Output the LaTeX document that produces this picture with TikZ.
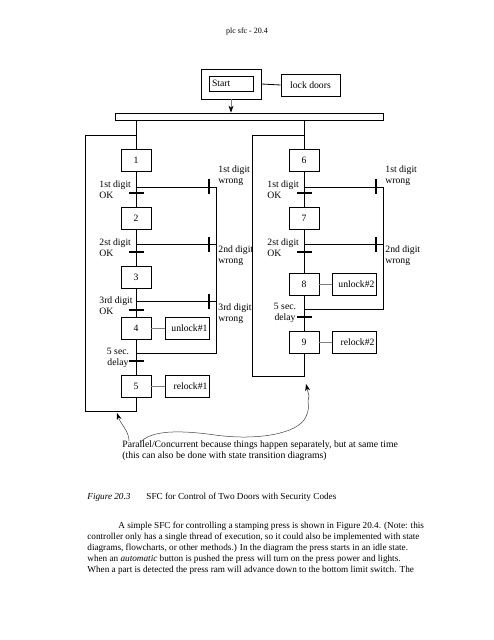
\documentclass[tikz,border=0pt]{standalone}
\usepackage{fontspec}
\setmainfont{Liberation Serif}
\usetikzlibrary{arrows.meta}

\tikzset{
	stepbox/.style={draw, minimum width=30pt, minimum height=22pt, inner sep=0pt},
	actbox/.style={draw, minimum width=44pt, minimum height=22pt, text width=40pt, inner xsep=2pt, align=right},
	hbar/.style={fill, minimum width=15pt, minimum height=2.6pt, inner sep=0pt},
	vbar/.style={fill, minimum width=2.6pt, minimum height=15pt, inner sep=0pt},
	lbl/.style={align=left, inner sep=0pt},
	page/.style={align=left, inner sep=0pt, font=\fontsize{9.2}{11}\selectfont},
	note/.style={black!75, line width=0.5pt},
}

\begin{document}
\begin{tikzpicture}[x=1pt, y=-1pt, line width=0.8pt,
		every node/.style={font=\fontsize{9.7}{11}\selectfont}]
	\useasboundingbox (0,0) rectangle (494,640);
		\node (H) at (247,32) {\fontsize{8}{9}\selectfont plc sfc - 20.4};
		% start step and parallel bar
		\node[draw, minimum width=60pt, minimum height=30pt] (ST) at (231,84) {};
		\node[draw, line width=0.6pt, minimum width=44pt, minimum height=15pt, text width=38pt, inner xsep=3pt, align=left] (STi) at (231,83.5) {Start};
		\node[draw, minimum width=59pt, minimum height=22pt] (LD) at (310.5,85) {lock doors};
		\draw (ST.east) -- (LD.west);
		\node[draw, minimum width=268pt, minimum height=7pt, inner sep=0pt] (PB) at (249,116.5) {};
		\draw[gray, line width=0.6pt, -{Stealth[black, length=7pt, width=5pt]}] (ST.south) -- (ST.south |- PB.north);
		% left door
		\node[stepbox] (S1) at (136,160) {1};
		\node[stepbox] (S2) at (136,218.5) {2};
		\node[stepbox] (S3) at (136,277) {3};
		\node[stepbox] (S4) at (136,328) {4};
		\node[stepbox] (S5) at (136,386.5) {5};
		\node[actbox] (A4) at (187.5,328) {unlock\#1};
		\node[actbox] (A5) at (187.5,386.5) {relock\#1};
		\node[hbar] (T1) at (136,193) {};
		\node[hbar] (T2) at (136,252) {};
		\node[hbar] (T3) at (136,310) {};
		\node[hbar] (T4) at (136,361) {};
		\node[vbar] (W1) at (209,186.5) {};
		\node[vbar] (W2) at (209,244.5) {};
		\node[vbar] (W3) at (209,301.5) {};
		\coordinate (R1) at (216,187);
		\coordinate (R4) at (216,353);
		\coordinate (L1) at (85,135);
		\draw (S1.north) -- (S1.north |- PB.south);
		\draw (S1) -- (S2);
		\draw (S2) -- (S3);
		\draw (S3) -- (S4);
		\draw (S4) -- (S5);
		\draw (S5.south) -- ++(0,13.5) -| (L1) -- (L1 -| S1);
		\draw (S1 |- R1) -- (R1) -- (R4) -- (R4 -| S4);
		\draw (S2 |- W2) -- (W2 -| R1);
		\draw (S3 |- W3) -- (W3 -| R1);
		\draw[gray] (S4) -- (A4);
		\draw[gray] (S5) -- (A5);
		\node[lbl, anchor=west] (O1) at (99,189.5) {1st digit\\OK};
		\node[lbl, anchor=west] (O2) at (99,248) {2st digit\\OK};
		\node[lbl, anchor=west] (O3) at (99,306) {3rd digit\\OK};
		\node[lbl, align=center] (D4) at (118,358) {5 sec.\\delay};
		\node[lbl, anchor=west] (X1) at (218,176) {1st digit\\wrong};
		\node[lbl, anchor=west] (X2) at (218,255.5) {2nd digit\\wrong};
		\node[lbl, anchor=west] (X3) at (218,314) {3rd digit\\wrong};
		% right door
		\node[stepbox] (S6) at (304,160) {6};
		\node[stepbox] (S7) at (304,218.5) {7};
		\node[stepbox] (S8) at (304,284) {8};
		\node[stepbox] (S9) at (304,342.5) {9};
		\node[actbox] (A8) at (354.5,284) {unlock\#2};
		\node[actbox] (A9) at (354.5,342.5) {relock\#2};
		\node[hbar] (T6) at (304,193) {};
		\node[hbar] (T7) at (304,252) {};
		\node[hbar] (T8) at (304,317) {};
		\node[vbar] (W6) at (376,186.5) {};
		\node[vbar] (W7) at (376,244.5) {};
		\coordinate (R6) at (383,187);
		\coordinate (R8) at (383,309);
		\coordinate (L6) at (252,135);
		\draw (S6.north) -- (S6.north |- PB.south);
		\draw (S6) -- (S7);
		\draw (S7) -- (S8);
		\draw (S8) -- (S9);
		\draw (S9.south) -- ++(0,22) -| (L6) -- (L6 -| S6);
		\draw (S6 |- R6) -- (R6) -- (R8) -- (R8 -| S8);
		\draw (S7 |- W7) -- (W7 -| R6);
		\draw[gray] (S8) -- (A8);
		\draw[gray] (S9) -- (A9);
		\node[lbl, anchor=west] (O6) at (267,189.5) {1st digit\\OK};
		\node[lbl, anchor=west] (O7) at (267,248) {2st digit\\OK};
		\node[lbl, align=center] (D8) at (285,313) {5 sec.\\delay};
		\node[lbl, anchor=west] (X6) at (385,176) {1st digit\\wrong};
		\node[lbl, anchor=west] (X7) at (385,255.5) {2nd digit\\wrong};
		% note
		\node[lbl, anchor=west] (N) at (122,450.5) {Parallel/Concurrent because things happen separately, but at same time\\(this can also be done with state transition diagrams)};
		\coordinate (P1) at (129,441);
		\coordinate (E1) at (117,413);
		\coordinate (P2) at (140,443);
		\coordinate (E2) at (306,384);
		\draw[note, -{Stealth[black, length=7pt, width=5pt]}] (P1) .. controls (129,431) and (121,425) .. (E1);
		\draw[note, -{Stealth[black, length=7pt, width=5pt]}] (P2) .. controls (150,430) and (180,430) .. (215,435)
			.. controls (250,440) and (292,436) .. (304,420) .. controls (312,408) and (306,402) .. (309,396) -- (E2);
		% caption and text
		\node[page, anchor=west] (FG) at (87,497) {\textit{Figure 20.3}};
		\node[page, anchor=west] (CP) at (146,497) {SFC for Control of Two Doors with Security Codes};
		\node[page, anchor=west] (TX) at (87,548) {\hspace{31pt}A simple SFC for controlling a stamping press is shown in Figure 20.4. (Note: this\\controller only has a single thread of execution, so it could also be implemented with state\\diagrams, flowcharts, or other methods.) In the diagram the press starts in an idle state.\\when an \textit{automatic} button is pushed the press will turn on the press power and lights.\\When a part is detected the press ram will advance down to the bottom limit switch. The};
	\end{tikzpicture}
\end{document}
